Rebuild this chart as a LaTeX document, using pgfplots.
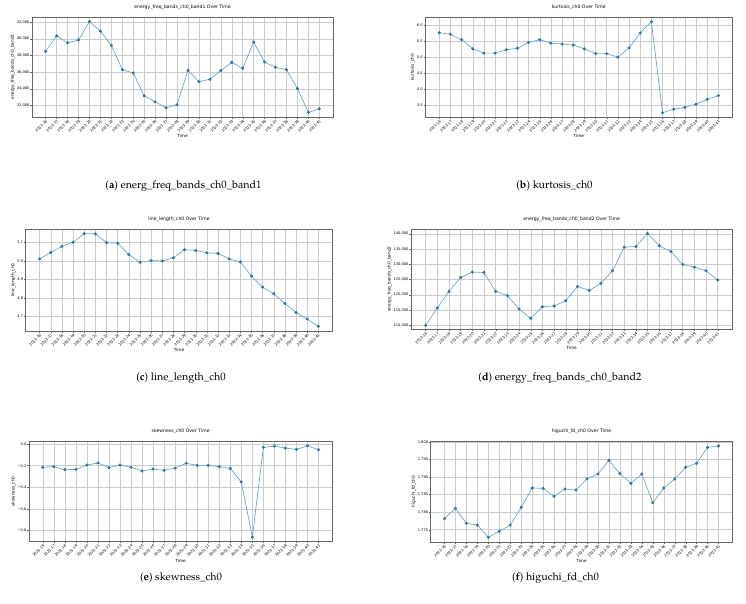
\documentclass[border=0pt]{standalone}
\usepackage[T1]{fontenc}
\usepackage{fontspec}
\newfontfamily\plotfont{DejaVu Sans}
\usepackage{pgfplots}
\pgfplotsset{compat=1.18}

\definecolor{mplblue}{HTML}{1F77B4}

\newcommand\capfont{\fontencoding{T1}\fontfamily{ppl}\fontsize{10.7}{13}\selectfont}
\newcommand\tickfont{\plotfont\fontsize{3.6}{4.2}\selectfont}
\newcommand\labfont{\plotfont\fontsize{4.2}{5}\selectfont}
\newcommand\titfont{\plotfont\fontsize{4.6}{5.5}\selectfont}

\pgfplotsset{
  panel/.style={
    scale only axis, anchor=south west,
    xmin=-1.25, xmax=26.25,
    xtick={0,...,25},
    xticklabels={2023-16,2023-17,2023-18,2023-19,2023-20,2023-21,2023-22,2023-23,2023-24,2023-25,2023-26,2023-27,2023-28,2023-29,2023-30,2023-31,2023-32,2023-33,2023-34,2023-35,2023-36,2023-37,2023-38,2023-39,2023-40,2023-41},
    scaled y ticks=false,
    grid=major,
    grid style={line width=0.45pt, draw=black!20},
    axis line style={line width=0.7pt, draw=black!60},
    tick pos=left, tick align=outside,
    major tick length=1.6pt,
    tick style={line width=0.4pt, draw=black!60},
    x tick label style={font=\tickfont, rotate=45, anchor=north east, inner sep=0.6pt},
    y tick label style={font=\tickfont, anchor=east, inner sep=0.8pt},
    title style={font=\titfont, at={(0.5,1)}, anchor=south, inner sep=1.2pt},
    xlabel={Time},
    xlabel style={font=\labfont, inner sep=1pt},
    ylabel style={font=\labfont, inner sep=1pt},
  },
  series/.style={mplblue!65, line width=0.7pt, mark=*, mark size=1.15pt,
    mark options={draw=mplblue, fill=mplblue}},
}

\begin{document}
\begin{tikzpicture}
\useasboundingbox (0,0) rectangle (746pt,604pt);

% (a) energy in band 1
\begin{axis}[panel, at={(32pt,487pt)}, width=301pt, height=100pt,
  ymin=30620, ymax=42620,
  ytick={32000,34000,36000,38000,40000,42000},
  yticklabels={{32,000},{34,000},{36,000},{38,000},{40,000},{42,000}},
  title={energy\_freq\_bands\_ch0\_band1 Over Time},
  ylabel={energy\_freq\_bands\_ch0\_band1}]
\addplot[series] coordinates {
(0,38490) (1,40365) (2,39528) (3,39851) (4,42074) (5,40924) (6,39209)
(7,36302) (8,35904) (9,33157) (10,32442) (11,31725) (12,32080) (13,36218)
(14,34868) (15,35143) (16,36183) (17,37175) (18,36458) (19,39612) (20,37215)
(21,36578) (22,36302) (23,34032) (24,31163) (25,31606)};
\end{axis}

% (b) kurtosis
\begin{axis}[panel, at={(425.3pt,486.7pt)}, width=307pt, height=100pt,
  ymin=3.107, ymax=6.253,
  ytick={3.5,4.0,4.5,5.0,5.5,6.0},
  yticklabels={3.5,4.0,4.5,5.0,5.5,6.0},
  title={kurtosis\_ch0 Over Time},
  ylabel={kurtosis\_ch0}]
\addplot[series] coordinates {
(0,5.77) (1,5.72) (2,5.55) (3,5.26) (4,5.125) (5,5.125) (6,5.23) (7,5.28)
(8,5.46) (9,5.55) (10,5.44) (11,5.41) (12,5.38) (13,5.26) (14,5.11) (15,5.11)
(16,5.00) (17,5.29) (18,5.76) (19,6.11) (20,3.25) (21,3.36) (22,3.42)
(23,3.52) (24,3.67) (25,3.79)};
\end{axis}

% (c) line length
\begin{axis}[panel, at={(25.7pt,273pt)}, width=306.6pt, height=102pt,
  ymin=4.622, ymax=5.174,
  ytick={4.7,4.8,4.9,5.0,5.1},
  yticklabels={4.7,4.8,4.9,5.0,5.1},
  title={line\_length\_ch0 Over Time},
  ylabel={line\_length\_ch0}]
\addplot[series] coordinates {
(0,5.012) (1,5.047) (2,5.080) (3,5.102) (4,5.149) (5,5.148) (6,5.100)
(7,5.097) (8,5.036) (9,4.994) (10,5.003) (11,5.001) (12,5.018) (13,5.062)
(14,5.058) (15,5.045) (16,5.042) (17,5.012) (18,4.996) (19,4.919) (20,4.859)
(21,4.824) (22,4.771) (23,4.722) (24,4.687) (25,4.647)};
\end{axis}

% (d) energy in band 2
\begin{axis}[panel, at={(411pt,274.7pt)}, width=321.3pt, height=100.3pt,
  ymin=108700, ymax=141600,
  ytick={110000,115000,120000,125000,130000,135000,140000},
  yticklabels={{110,000},{115,000},{120,000},{125,000},{130,000},{135,000},{140,000}},
  title={energy\_freq\_bands\_ch0\_band2 Over Time},
  ylabel={energy\_freq\_bands\_ch0\_band2}]
\addplot[series] coordinates {
(0,110003) (1,115689) (2,121120) (3,125702) (4,127470) (5,127340)
(6,121120) (7,119714) (8,115362) (9,112290) (10,116114) (11,116344)
(12,118078) (13,122756) (14,121448) (15,123738) (16,127894) (17,135648)
(18,135845) (19,140110) (20,136074) (21,134209) (22,129955) (23,129104)
(24,127894) (25,124850)};
\end{axis}

% (e) skewness
\begin{axis}[panel, at={(29pt,62.3pt)}, width=303.3pt, height=100.4pt,
  ymin=-0.904, ymax=0.026,
  ytick={-0.8,-0.6,-0.4,-0.2,0},
  yticklabels={−0.8,−0.6,−0.4,−0.2,0.0},
  title={skewness\_ch0 Over Time},
  ylabel={skewness\_ch0}]
\addplot[series] coordinates {
(0,-0.215) (1,-0.209) (2,-0.237) (3,-0.234) (4,-0.194) (5,-0.175)
(6,-0.218) (7,-0.194) (8,-0.215) (9,-0.249) (10,-0.231) (11,-0.243)
(12,-0.222) (13,-0.178) (14,-0.197) (15,-0.197) (16,-0.209) (17,-0.225)
(18,-0.351) (19,-0.862) (20,-0.031) (21,-0.018) (22,-0.037) (23,-0.049)
(24,-0.016) (25,-0.052)};
\end{axis}

% (f) Higuchi fractal dimension
\begin{axis}[panel, at={(430.7pt,62pt)}, width=301.6pt, height=100.7pt,
  ymin=1.7715, ymax=1.8002,
  ytick={1.775,1.780,1.785,1.790,1.795,1.800},
  yticklabels={1.775,1.780,1.785,1.790,1.795,1.800},
  title={higuchi\_fd\_ch0 Over Time},
  ylabel={higuchi\_fd\_ch0}]
\addplot[series] coordinates {
(0,1.77813) (1,1.78109) (2,1.77682) (3,1.77633) (4,1.77283) (5,1.77454)
(6,1.77633) (7,1.78138) (8,1.78688) (9,1.78680) (10,1.78452) (11,1.78660)
(12,1.78631) (13,1.78953) (14,1.79088) (15,1.79478) (16,1.79097)
(17,1.78822) (18,1.79088) (19,1.78270) (20,1.78688) (21,1.78945)
(22,1.79278) (23,1.79393) (24,1.79849) (25,1.79886)};
\end{axis}

% sub-captions
\node[anchor=base, inner sep=0] at (183.5pt,415pt) {\capfont(\textbf{a}) energ\_freq\_bands\_ch0\_band1};
\node[anchor=base, inner sep=0] at (554.5pt,415pt) {\capfont(\textbf{b}) kurtosis\_ch0};
\node[anchor=base, inner sep=0] at (181pt,223pt) {\capfont(\textbf{c}) line\_length\_ch0};
\node[anchor=base, inner sep=0] at (560pt,223pt) {\capfont(\textbf{d}) energy\_freq\_bands\_ch0\_band2};
\node[anchor=base, inner sep=0] at (181pt,23pt) {\capfont(\textbf{e}) skewness\_ch0};
\node[anchor=base, inner sep=0] at (555.5pt,23pt) {\capfont(\textbf{f}) higuchi\_fd\_ch0};
\end{tikzpicture}
\end{document}
